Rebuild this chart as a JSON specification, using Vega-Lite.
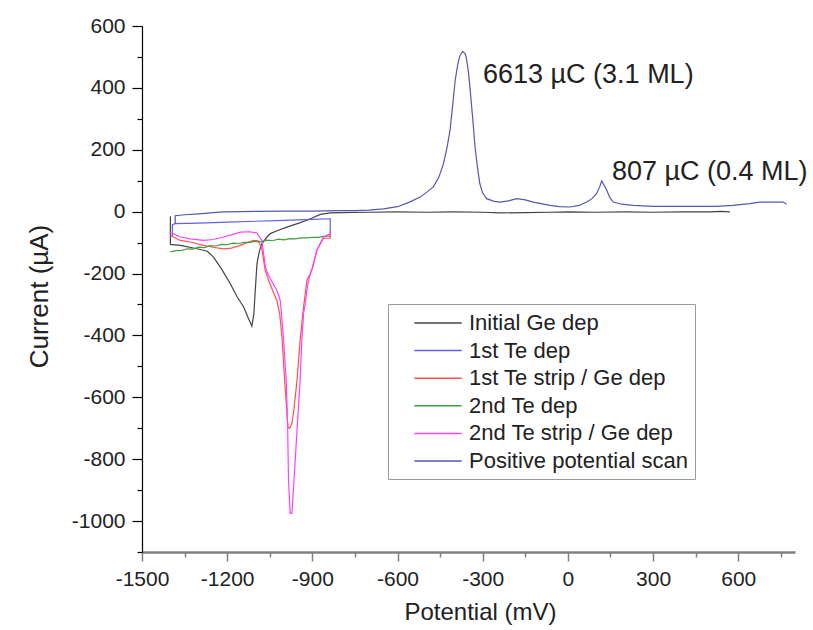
{
  "$schema": "https://vega.github.io/schema/vega-lite/v6.json",
  "width": 653,
  "height": 526,
  "autosize": {"type": "none"},
  "padding": {"left": 142, "top": 26, "right": 18, "bottom": 78},
  "background": "white",
  "config": {
    "view": {"stroke": null},
    "font": "Liberation Sans",
    "text": {"font": "Liberation Sans"}
  },
  "encoding": {
    "x": {
      "field": "potential",
      "type": "quantitative",
      "scale": {"domain": [-1500, 800], "nice": false, "zero": false},
      "axis": {
        "title": "Potential (mV)",
        "values": [-1500, -1350, -1200, -1050, -900, -750, -600, -450, -300, -150, 0, 150, 300, 450, 600, 750],
        "labelExpr": "datum.value % 300 === 0 ? '' + datum.value : ''",
        "tickSize": {"condition": {"test": "datum.value % 300 !== 0", "value": 5}, "value": 9},
        "grid": false,
        "domainColor": "#808080",
        "domainWidth": 2.5,
        "tickColor": "#808080",
        "tickWidth": 1.5,
        "labelFontSize": 21,
        "labelColor": "#222222",
        "labelPadding": 7,
        "labelFlush": false,
        "labelOverlap": false,
        "titleFontSize": 24,
        "titleFontWeight": "normal",
        "titleColor": "#222222",
        "titlePadding": 11,
        "titleX": 338
      }
    },
    "y": {
      "field": "current",
      "type": "quantitative",
      "scale": {"domain": [-1100, 600], "nice": false, "zero": false},
      "axis": {
        "title": "Current (µA)",
        "values": [-1100, -1000, -900, -800, -700, -600, -500, -400, -300, -200, -100, 0, 100, 200, 300, 400, 500, 600],
        "labelExpr": "datum.value % 200 === 0 ? '' + datum.value : ''",
        "tickSize": {"condition": {"test": "datum.value % 200 !== 0", "value": 5}, "value": 10},
        "grid": false,
        "domainColor": "#000000",
        "domainWidth": 1.2,
        "tickColor": "#000000",
        "tickWidth": 1.2,
        "labelFontSize": 21,
        "labelColor": "#222222",
        "labelPadding": 7,
        "labelFlush": false,
        "labelOverlap": false,
        "titleFontSize": 26,
        "titleFontWeight": "normal",
        "titleColor": "#222222",
        "titlePadding": 19,
        "titleY": 270
      }
    }
  },
  "layer": [
    {
      "data": {
        "values": [
          {"series": "Initial Ge dep", "potential": -1400, "current": -15},
          {"series": "Initial Ge dep", "potential": -1400, "current": -106},
          {"series": "Initial Ge dep", "potential": -1365, "current": -109},
          {"series": "Initial Ge dep", "potential": -1306, "current": -120},
          {"series": "Initial Ge dep", "potential": -1270, "current": -128},
          {"series": "Initial Ge dep", "potential": -1248, "current": -147},
          {"series": "Initial Ge dep", "potential": -1220, "current": -185},
          {"series": "Initial Ge dep", "potential": -1189, "current": -233},
          {"series": "Initial Ge dep", "potential": -1165, "current": -275},
          {"series": "Initial Ge dep", "potential": -1142, "current": -308},
          {"series": "Initial Ge dep", "potential": -1125, "current": -345},
          {"series": "Initial Ge dep", "potential": -1113, "current": -370},
          {"series": "Initial Ge dep", "potential": -1106, "current": -330},
          {"series": "Initial Ge dep", "potential": -1101, "current": -254},
          {"series": "Initial Ge dep", "potential": -1095, "current": -168},
          {"series": "Initial Ge dep", "potential": -1086, "current": -125},
          {"series": "Initial Ge dep", "potential": -1078, "current": -104},
          {"series": "Initial Ge dep", "potential": -1060, "current": -82},
          {"series": "Initial Ge dep", "potential": -1048, "current": -71},
          {"series": "Initial Ge dep", "potential": -1020, "current": -60},
          {"series": "Initial Ge dep", "potential": -990, "current": -50},
          {"series": "Initial Ge dep", "potential": -950, "current": -38},
          {"series": "Initial Ge dep", "potential": -919, "current": -28},
          {"series": "Initial Ge dep", "potential": -895, "current": -18},
          {"series": "Initial Ge dep", "potential": -872, "current": -9},
          {"series": "Initial Ge dep", "potential": -837, "current": -4},
          {"series": "Initial Ge dep", "potential": -800, "current": -3},
          {"series": "Initial Ge dep", "potential": -700, "current": -2},
          {"series": "Initial Ge dep", "potential": -600, "current": -1},
          {"series": "Initial Ge dep", "potential": -500, "current": -2},
          {"series": "Initial Ge dep", "potential": -400, "current": -1},
          {"series": "Initial Ge dep", "potential": -300, "current": -2},
          {"series": "Initial Ge dep", "potential": -239, "current": -4},
          {"series": "Initial Ge dep", "potential": -150, "current": -3},
          {"series": "Initial Ge dep", "potential": -60, "current": -2},
          {"series": "Initial Ge dep", "potential": 0, "current": -1},
          {"series": "Initial Ge dep", "potential": 100, "current": -2},
          {"series": "Initial Ge dep", "potential": 200, "current": -1},
          {"series": "Initial Ge dep", "potential": 300, "current": -2},
          {"series": "Initial Ge dep", "potential": 400, "current": -1},
          {"series": "Initial Ge dep", "potential": 500, "current": -1},
          {"series": "Initial Ge dep", "potential": 540, "current": 1},
          {"series": "Initial Ge dep", "potential": 571, "current": -1},

          {"series": "1st Te dep", "potential": -837, "current": -80},
          {"series": "1st Te dep", "potential": -837, "current": -23},
          {"series": "1st Te dep", "potential": -900, "current": -25},
          {"series": "1st Te dep", "potential": -1000, "current": -28},
          {"series": "1st Te dep", "potential": -1100, "current": -31},
          {"series": "1st Te dep", "potential": -1200, "current": -34},
          {"series": "1st Te dep", "potential": -1300, "current": -37},
          {"series": "1st Te dep", "potential": -1383, "current": -39},
          {"series": "1st Te dep", "potential": -1393, "current": -42},
          {"series": "1st Te dep", "potential": -1393, "current": -80},

          {"series": "1st Te strip / Ge dep", "potential": -837, "current": -72},
          {"series": "1st Te strip / Ge dep", "potential": -837, "current": -86},
          {"series": "1st Te strip / Ge dep", "potential": -861, "current": -86},
          {"series": "1st Te strip / Ge dep", "potential": -884, "current": -125},
          {"series": "1st Te strip / Ge dep", "potential": -900, "current": -185},
          {"series": "1st Te strip / Ge dep", "potential": -919, "current": -222},
          {"series": "1st Te strip / Ge dep", "potential": -931, "current": -308},
          {"series": "1st Te strip / Ge dep", "potential": -943, "current": -416},
          {"series": "1st Te strip / Ge dep", "potential": -954, "current": -545},
          {"series": "1st Te strip / Ge dep", "potential": -965, "current": -640},
          {"series": "1st Te strip / Ge dep", "potential": -972, "current": -685},
          {"series": "1st Te strip / Ge dep", "potential": -980, "current": -700},
          {"series": "1st Te strip / Ge dep", "potential": -986, "current": -696},
          {"series": "1st Te strip / Ge dep", "potential": -990, "current": -640},
          {"series": "1st Te strip / Ge dep", "potential": -996, "current": -567},
          {"series": "1st Te strip / Ge dep", "potential": -1002, "current": -480},
          {"series": "1st Te strip / Ge dep", "potential": -1007, "current": -405},
          {"series": "1st Te strip / Ge dep", "potential": -1015, "current": -330},
          {"series": "1st Te strip / Ge dep", "potential": -1025, "current": -287},
          {"series": "1st Te strip / Ge dep", "potential": -1040, "current": -255},
          {"series": "1st Te strip / Ge dep", "potential": -1054, "current": -222},
          {"series": "1st Te strip / Ge dep", "potential": -1066, "current": -190},
          {"series": "1st Te strip / Ge dep", "potential": -1078, "current": -120},
          {"series": "1st Te strip / Ge dep", "potential": -1090, "current": -95},
          {"series": "1st Te strip / Ge dep", "potential": -1107, "current": -93},
          {"series": "1st Te strip / Ge dep", "potential": -1130, "current": -100},
          {"series": "1st Te strip / Ge dep", "potential": -1154, "current": -109},
          {"series": "1st Te strip / Ge dep", "potential": -1185, "current": -118},
          {"series": "1st Te strip / Ge dep", "potential": -1213, "current": -120},
          {"series": "1st Te strip / Ge dep", "potential": -1250, "current": -115},
          {"series": "1st Te strip / Ge dep", "potential": -1283, "current": -109},
          {"series": "1st Te strip / Ge dep", "potential": -1330, "current": -98},
          {"series": "1st Te strip / Ge dep", "potential": -1365, "current": -93},
          {"series": "1st Te strip / Ge dep", "potential": -1400, "current": -77},

          {"series": "2nd Te dep", "potential": -1400, "current": -130},
          {"series": "2nd Te dep", "potential": -1380, "current": -126},
          {"series": "2nd Te dep", "potential": -1360, "current": -125},
          {"series": "2nd Te dep", "potential": -1340, "current": -120},
          {"series": "2nd Te dep", "potential": -1320, "current": -121},
          {"series": "2nd Te dep", "potential": -1300, "current": -115},
          {"series": "2nd Te dep", "potential": -1280, "current": -116},
          {"series": "2nd Te dep", "potential": -1260, "current": -110},
          {"series": "2nd Te dep", "potential": -1240, "current": -111},
          {"series": "2nd Te dep", "potential": -1220, "current": -106},
          {"series": "2nd Te dep", "potential": -1200, "current": -107},
          {"series": "2nd Te dep", "potential": -1180, "current": -102},
          {"series": "2nd Te dep", "potential": -1160, "current": -103},
          {"series": "2nd Te dep", "potential": -1140, "current": -99},
          {"series": "2nd Te dep", "potential": -1120, "current": -99},
          {"series": "2nd Te dep", "potential": -1100, "current": -96},
          {"series": "2nd Te dep", "potential": -1080, "current": -97},
          {"series": "2nd Te dep", "potential": -1060, "current": -92},
          {"series": "2nd Te dep", "potential": -1040, "current": -94},
          {"series": "2nd Te dep", "potential": -1020, "current": -89},
          {"series": "2nd Te dep", "potential": -1000, "current": -91},
          {"series": "2nd Te dep", "potential": -980, "current": -87},
          {"series": "2nd Te dep", "potential": -960, "current": -88},
          {"series": "2nd Te dep", "potential": -940, "current": -85},
          {"series": "2nd Te dep", "potential": -920, "current": -85},
          {"series": "2nd Te dep", "potential": -900, "current": -83},
          {"series": "2nd Te dep", "potential": -880, "current": -83},
          {"series": "2nd Te dep", "potential": -860, "current": -80},
          {"series": "2nd Te dep", "potential": -840, "current": -79},

          {"series": "2nd Te strip / Ge dep", "potential": -837, "current": -60},
          {"series": "2nd Te strip / Ge dep", "potential": -837, "current": -72},
          {"series": "2nd Te strip / Ge dep", "potential": -845, "current": -75},
          {"series": "2nd Te strip / Ge dep", "potential": -861, "current": -82},
          {"series": "2nd Te strip / Ge dep", "potential": -884, "current": -125},
          {"series": "2nd Te strip / Ge dep", "potential": -900, "current": -180},
          {"series": "2nd Te strip / Ge dep", "potential": -910, "current": -211},
          {"series": "2nd Te strip / Ge dep", "potential": -917, "current": -240},
          {"series": "2nd Te strip / Ge dep", "potential": -924, "current": -290},
          {"series": "2nd Te strip / Ge dep", "potential": -931, "current": -330},
          {"series": "2nd Te strip / Ge dep", "potential": -937, "current": -416},
          {"series": "2nd Te strip / Ge dep", "potential": -943, "current": -545},
          {"series": "2nd Te strip / Ge dep", "potential": -954, "current": -707},
          {"series": "2nd Te strip / Ge dep", "potential": -966, "current": -890},
          {"series": "2nd Te strip / Ge dep", "potential": -972, "current": -975},
          {"series": "2nd Te strip / Ge dep", "potential": -978, "current": -975},
          {"series": "2nd Te strip / Ge dep", "potential": -984, "current": -869},
          {"series": "2nd Te strip / Ge dep", "potential": -987, "current": -696},
          {"series": "2nd Te strip / Ge dep", "potential": -992, "current": -545},
          {"series": "2nd Te strip / Ge dep", "potential": -1002, "current": -405},
          {"series": "2nd Te strip / Ge dep", "potential": -1013, "current": -287},
          {"series": "2nd Te strip / Ge dep", "potential": -1025, "current": -254},
          {"series": "2nd Te strip / Ge dep", "potential": -1040, "current": -230},
          {"series": "2nd Te strip / Ge dep", "potential": -1055, "current": -205},
          {"series": "2nd Te strip / Ge dep", "potential": -1065, "current": -180},
          {"series": "2nd Te strip / Ge dep", "potential": -1078, "current": -93},
          {"series": "2nd Te strip / Ge dep", "potential": -1095, "current": -69},
          {"series": "2nd Te strip / Ge dep", "potential": -1120, "current": -65},
          {"series": "2nd Te strip / Ge dep", "potential": -1154, "current": -66},
          {"series": "2nd Te strip / Ge dep", "potential": -1185, "current": -75},
          {"series": "2nd Te strip / Ge dep", "potential": -1213, "current": -82},
          {"series": "2nd Te strip / Ge dep", "potential": -1250, "current": -90},
          {"series": "2nd Te strip / Ge dep", "potential": -1283, "current": -93},
          {"series": "2nd Te strip / Ge dep", "potential": -1330, "current": -88},
          {"series": "2nd Te strip / Ge dep", "potential": -1365, "current": -82},
          {"series": "2nd Te strip / Ge dep", "potential": -1403, "current": -66},

          {"series": "Positive potential scan", "potential": -1383, "current": -40},
          {"series": "Positive potential scan", "potential": -1383, "current": -13},
          {"series": "Positive potential scan", "potential": -1350, "current": -10},
          {"series": "Positive potential scan", "potential": -1300, "current": -7},
          {"series": "Positive potential scan", "potential": -1250, "current": -3},
          {"series": "Positive potential scan", "potential": -1213, "current": -1},
          {"series": "Positive potential scan", "potential": -1150, "current": 0},
          {"series": "Positive potential scan", "potential": -1100, "current": 1},
          {"series": "Positive potential scan", "potential": -1000, "current": 2},
          {"series": "Positive potential scan", "potential": -900, "current": 2},
          {"series": "Positive potential scan", "potential": -800, "current": 3},
          {"series": "Positive potential scan", "potential": -750, "current": 3},
          {"series": "Positive potential scan", "potential": -700, "current": 5},
          {"series": "Positive potential scan", "potential": -650, "current": 9},
          {"series": "Positive potential scan", "potential": -600, "current": 16},
          {"series": "Positive potential scan", "potential": -560, "current": 30},
          {"series": "Positive potential scan", "potential": -520, "current": 47},
          {"series": "Positive potential scan", "potential": -490, "current": 68},
          {"series": "Positive potential scan", "potential": -474, "current": 80},
          {"series": "Positive potential scan", "potential": -455, "current": 110},
          {"series": "Positive potential scan", "potential": -438, "current": 155},
          {"series": "Positive potential scan", "potential": -425, "current": 210},
          {"series": "Positive potential scan", "potential": -415, "current": 263},
          {"series": "Positive potential scan", "potential": -405, "current": 350},
          {"series": "Positive potential scan", "potential": -397, "current": 424},
          {"series": "Positive potential scan", "potential": -388, "current": 475},
          {"series": "Positive potential scan", "potential": -380, "current": 505},
          {"series": "Positive potential scan", "potential": -370, "current": 518},
          {"series": "Positive potential scan", "potential": -362, "current": 510},
          {"series": "Positive potential scan", "potential": -358, "current": 500},
          {"series": "Positive potential scan", "potential": -350, "current": 450},
          {"series": "Positive potential scan", "potential": -344, "current": 392},
          {"series": "Positive potential scan", "potential": -335, "current": 300},
          {"series": "Positive potential scan", "potential": -327, "current": 209},
          {"series": "Positive potential scan", "potential": -318, "current": 140},
          {"series": "Positive potential scan", "potential": -310, "current": 90},
          {"series": "Positive potential scan", "potential": -300, "current": 60},
          {"series": "Positive potential scan", "potential": -286, "current": 42},
          {"series": "Positive potential scan", "potential": -260, "current": 33},
          {"series": "Positive potential scan", "potential": -239, "current": 31},
          {"series": "Positive potential scan", "potential": -210, "current": 35},
          {"series": "Positive potential scan", "potential": -180, "current": 42},
          {"series": "Positive potential scan", "potential": -150, "current": 38},
          {"series": "Positive potential scan", "potential": -122, "current": 31},
          {"series": "Positive potential scan", "potential": -90, "current": 25},
          {"series": "Positive potential scan", "potential": -63, "current": 20},
          {"series": "Positive potential scan", "potential": -30, "current": 16},
          {"series": "Positive potential scan", "potential": 7, "current": 15},
          {"series": "Positive potential scan", "potential": 40, "current": 20},
          {"series": "Positive potential scan", "potential": 66, "current": 31},
          {"series": "Positive potential scan", "potential": 85, "current": 42},
          {"series": "Positive potential scan", "potential": 101, "current": 58},
          {"series": "Positive potential scan", "potential": 112, "current": 80},
          {"series": "Positive potential scan", "potential": 119, "current": 99},
          {"series": "Positive potential scan", "potential": 128, "current": 85},
          {"series": "Positive potential scan", "potential": 137, "current": 69},
          {"series": "Positive potential scan", "potential": 148, "current": 45},
          {"series": "Positive potential scan", "potential": 160, "current": 31},
          {"series": "Positive potential scan", "potential": 190, "current": 24},
          {"series": "Positive potential scan", "potential": 230, "current": 20},
          {"series": "Positive potential scan", "potential": 300, "current": 17},
          {"series": "Positive potential scan", "potential": 348, "current": 17},
          {"series": "Positive potential scan", "potential": 450, "current": 17},
          {"series": "Positive potential scan", "potential": 524, "current": 17},
          {"series": "Positive potential scan", "potential": 580, "current": 20},
          {"series": "Positive potential scan", "potential": 641, "current": 26},
          {"series": "Positive potential scan", "potential": 676, "current": 31},
          {"series": "Positive potential scan", "potential": 720, "current": 31},
          {"series": "Positive potential scan", "potential": 758, "current": 31},
          {"series": "Positive potential scan", "potential": 770, "current": 24}
        ]
      },
      "mark": {"type": "line", "strokeWidth": 1.2},
      "encoding": {
        "color": {
          "field": "series",
          "type": "nominal",
          "scale": {
            "domain": ["Initial Ge dep", "1st Te dep", "1st Te strip / Ge dep", "2nd Te dep", "2nd Te strip / Ge dep", "Positive potential scan"],
            "range": ["#444444", "#6060f0", "#ff5050", "#40a040", "#ff40ff", "#5656b0"]
          },
          "legend": {
            "title": null,
            "orient": "none",
            "legendX": 246,
            "legendY": 278,
            "strokeColor": "#999999",
            "fillColor": "white",
            "padding": 7,
            "symbolType": "M-2.15,0H2.15",
            "symbolSize": 484,
            "symbolStrokeWidth": 1.5,
            "symbolOffset": 31,
            "labelOffset": 19,
            "labelFontSize": 22,
            "labelColor": "#222222",
            "labelLimit": 400,
            "rowPadding": 4.6
          }
        },
        "order": {"value": null}
      }
    },
    {
      "data": {
        "values": [
          {"potential": -299, "current": 441, "label": "6613 µC (3.1 ML)"},
          {"potential": 155, "current": 127, "label": "807 µC (0.4 ML)"}
        ]
      },
      "mark": {"type": "text", "align": "left", "baseline": "middle", "fontSize": 27, "color": "#222222"},
      "encoding": {
        "text": {"field": "label"}
      }
    }
  ]
}
